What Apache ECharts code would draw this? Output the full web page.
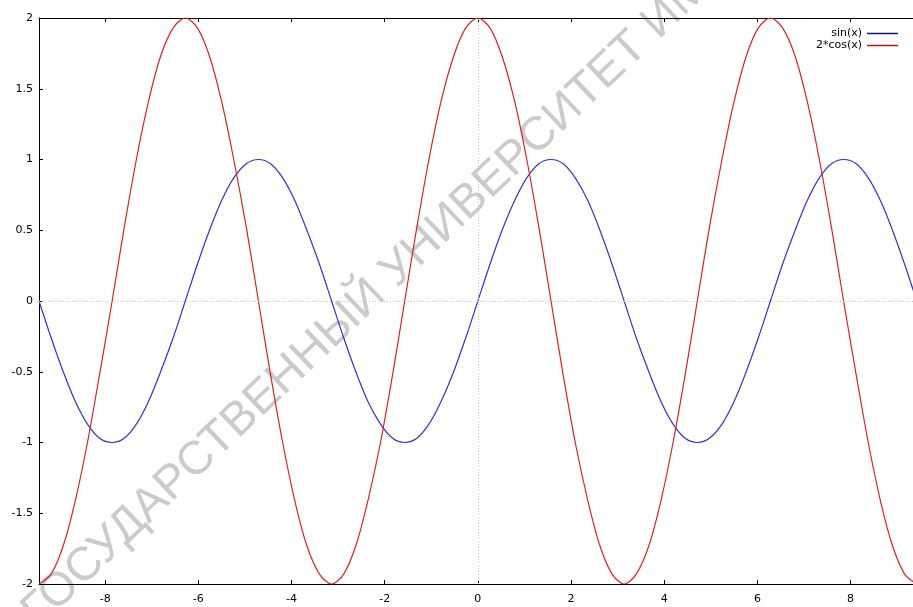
<!DOCTYPE html>
<html>
<head>
<meta charset="utf-8">
<title>sin(x), 2*cos(x)</title>
<script src="https://cdn.jsdelivr.net/npm/echarts@6/dist/echarts.min.js"></script>
<style>
    html, body { margin: 0; padding: 0; background: #fff; }
    #chart { width: 913px; height: 607px; }
</style>
</head>
<body>
<div id="chart"></div>
<script>
// x samples (step ~ pi/12)
const xValues = [-9.42, -9.16, -8.90, -8.64, -8.38, -8.12, -7.85, -7.59, -7.33, -7.07, -6.81, -6.54,
    -6.28, -6.02, -5.76, -5.50, -5.24, -4.97, -4.71, -4.45, -4.19, -3.93, -3.67, -3.40,
    -3.14, -2.88, -2.62, -2.36, -2.09, -1.83, -1.57, -1.31, -1.05, -0.79, -0.52, -0.26,
    0, 0.26, 0.52, 0.79, 1.05, 1.31, 1.57, 1.83, 2.09, 2.36, 2.62, 2.88,
    3.14, 3.40, 3.67, 3.93, 4.19, 4.45, 4.71, 4.97, 5.24, 5.50, 5.76, 6.02,
    6.28, 6.54, 6.81, 7.07, 7.33, 7.59, 7.85, 8.12, 8.38, 8.64, 8.90, 9.16, 9.42];

// sin(x)
const sinValues = [0, -0.26, -0.5, -0.71, -0.87, -0.97, -1, -0.97, -0.87, -0.71, -0.5, -0.26,
    0, 0.26, 0.5, 0.71, 0.87, 0.97, 1, 0.97, 0.87, 0.71, 0.5, 0.26,
    0, -0.26, -0.5, -0.71, -0.87, -0.97, -1, -0.97, -0.87, -0.71, -0.5, -0.26,
    0, 0.26, 0.5, 0.71, 0.87, 0.97, 1, 0.97, 0.87, 0.71, 0.5, 0.26,
    0, -0.26, -0.5, -0.71, -0.87, -0.97, -1, -0.97, -0.87, -0.71, -0.5, -0.26,
    0, 0.26, 0.5, 0.71, 0.87, 0.97, 1, 0.97, 0.87, 0.71, 0.5, 0.26, 0];

// 2*cos(x)
const cosValues = [-2, -1.93, -1.73, -1.41, -1, -0.52, 0, 0.52, 1, 1.41, 1.73, 1.93,
    2, 1.93, 1.73, 1.41, 1, 0.52, 0, -0.52, -1, -1.41, -1.73, -1.93,
    -2, -1.93, -1.73, -1.41, -1, -0.52, 0, 0.52, 1, 1.41, 1.73, 1.93,
    2, 1.93, 1.73, 1.41, 1, 0.52, 0, -0.52, -1, -1.41, -1.73, -1.93,
    -2, -1.93, -1.73, -1.41, -1, -0.52, 0, 0.52, 1, 1.41, 1.73, 1.93,
    2, 1.93, 1.73, 1.41, 1, 0.52, 0, -0.52, -1, -1.41, -1.73, -1.93, -2];

const xTicks = [-8, -6, -4, -2, 0, 2, 4, 6, 8];
const seriesNames = ['sin(x)', '2*cos(x)'];
const seriesColors = ['#3434c4', '#d82424'];
const legendColors = ['#101090', '#c01010'];
const watermarkText = 'ГОСУДАРСТВЕННЫЙ УНИВЕРСИТЕТ ИМЕНИ';

const FONT = 'DejaVu Sans';

function pairs(xs, ys) {
    return xs.map((x, i) => [x, ys[i]]);
}

function xAxisOf(position, withLabels) {
    return {
        type: 'value',
        min: -9.42,
        max: 9.34,
        position: position,
        axisLine: { onZero: false, lineStyle: { color: '#000', width: 1 } },
        axisTick: { inside: true, length: 4, customValues: xTicks, lineStyle: { color: '#000' } },
        axisLabel: withLabels
            ? { customValues: xTicks, margin: 10, fontFamily: FONT, fontSize: 11, color: '#000' }
            : { show: false },
        splitLine: { show: false }
    };
}

const chart = echarts.init(document.getElementById('chart'));

const option = {
    backgroundColor: '#fff',
    animation: false,
    grid: { left: 39, right: 0, top: 18, bottom: 23 },
    legend: {
        orient: 'vertical',
        right: 10,
        top: 23,
        align: 'right',
        icon: 'rect',
        itemWidth: 31,
        itemHeight: 1.5,
        itemGap: 1,
        textStyle: { fontFamily: FONT, fontSize: 11, color: '#000' },
        data: seriesNames.map((name, i) => ({
            name: name,
            itemStyle: { color: legendColors[i], borderWidth: 0 }
        }))
    },
    graphic: [{
        type: 'text',
        x: 46,
        y: 636,
        rotation: 43.5 * Math.PI / 180,
        silent: true,
        z: 0,
        style: {
            text: watermarkText,
            fill: '#cbcbcb',
            font: '47px "Liberation Sans"',
            verticalAlign: 'bottom'
        }
    }],
    xAxis: [xAxisOf('bottom', true), xAxisOf('top', false)],
    yAxis: {
        type: 'value',
        min: -2,
        max: 2,
        interval: 0.5,
        axisLine: { show: true, onZero: false, lineStyle: { color: '#000', width: 1 } },
        axisTick: { show: true, inside: true, length: 4, lineStyle: { color: '#000' } },
        axisLabel: { margin: 6, fontFamily: FONT, fontSize: 11, color: '#000' },
        splitLine: { show: false }
    },
    series: [
        {
            name: seriesNames[0],
            type: 'line',
            data: pairs(xValues, sinValues),
            showSymbol: false,
            symbol: 'none',
            smooth: 0.3,
            itemStyle: { color: seriesColors[0] },
            lineStyle: { color: seriesColors[0], width: 1.2 },
            markLine: {
                silent: true,
                symbol: 'none',
                label: { show: false },
                lineStyle: { color: '#c4c4c4', type: [1, 2], width: 1 },
                data: [{ xAxis: 0 }, { yAxis: 0 }]
            }
        },
        {
            name: seriesNames[1],
            type: 'line',
            data: pairs(xValues, cosValues),
            showSymbol: false,
            symbol: 'none',
            smooth: 0.3,
            itemStyle: { color: seriesColors[1] },
            lineStyle: { color: seriesColors[1], width: 1.2 }
        }
    ]
};

chart.setOption(option);
</script>
</body>
</html>
